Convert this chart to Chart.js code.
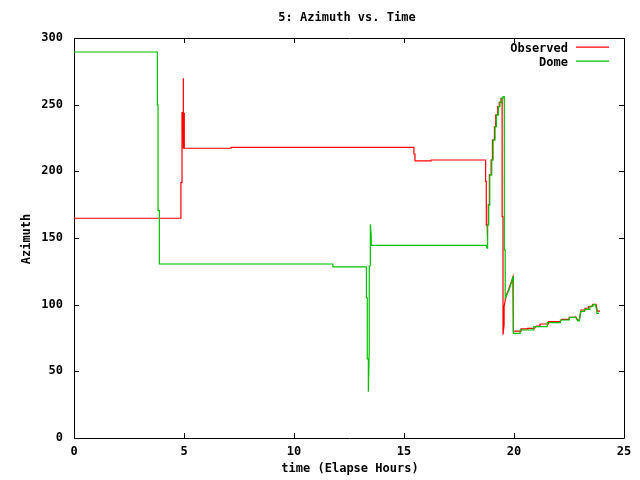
<!DOCTYPE html>
<html>
<head>
<meta charset="utf-8">
<script src="https://cdn.jsdelivr.net/npm/chart.js@4/dist/chart.umd.min.js"></script>
<style>
  html, body { margin: 0; padding: 0; background: #fff; }
  #wrap { width: 640px; height: 480px; }
</style>
</head>
<body>
<div id="wrap"><canvas id="azChart" width="640" height="480"></canvas></div>
<script>
// Observed azimuth (red)
const obsHours = [
    0, 4.86, 4.86, 4.91, 4.91, 4.96, 4.96, 4.98, 5.0, 5.0, 5.02, 5.02,
    7.14, 7.14, 15.45, 15.45, 15.5, 15.5, 16.23, 16.23,
    18.71, 18.71, 18.74, 18.74, 18.78, 18.78, 18.8, 18.8, 18.83, 18.83,
    18.88, 18.88, 18.96, 18.96, 19.02, 19.02, 19.11, 19.11, 19.17, 19.17,
    19.26, 19.26, 19.33, 19.33, 19.41, 19.41, 19.46, 19.46, 19.5, 19.5,
    19.55, 19.55, 19.6, 19.68, 19.75, 19.83, 19.9, 19.95, 19.97,
    20.32, 20.32, 20.62, 20.62, 20.92, 21.03, 21.18, 21.18, 21.56, 21.56,
    22.09, 22.17, 22.51, 22.51, 22.73, 22.8, 22.9, 22.97, 23.05, 23.23,
    23.23, 23.38, 23.38, 23.53, 23.58, 23.73, 23.79, 23.91
];
const obsAzimuth = [
    164.8, 164.8, 191.5, 191.5, 244, 244, 269.8, 217.3, 217.3, 244, 244, 217.3,
    217.3, 218, 218, 213, 213, 207.8, 207.8, 208.5,
    208.5, 192.5, 192.5, 159.8, 159.8, 149.8, 149.8, 159.8, 159.8, 174.8,
    174.8, 197.3, 197.3, 208.5, 208.5, 223.5, 223.5, 233.5, 233.5, 242.3,
    242.3, 248.5, 248.5, 251.8, 251.8, 254.8, 254.8, 166, 166, 77.5,
    85, 98.5, 103, 108.5, 111, 115, 118, 120.8, 80.2,
    80.2, 81.8, 81.8, 82.2, 82.2, 84, 84, 85.5, 85.5, 87.3,
    87.3, 89, 89, 90.5, 90.5, 91, 88.5, 88.5, 96, 96,
    97.3, 97.3, 98.5, 98.5, 100.2, 100.2, 95.2, 95.2
];

// Dome azimuth (green)
const domeHours = [
    0, 3.79, 3.79, 3.82, 3.82, 3.88, 3.88, 11.77, 11.77, 13.29,
    13.29, 13.33, 13.33, 13.38, 13.38, 13.42, 13.42, 13.47, 13.47, 13.51,
    13.51, 18.74, 18.78, 18.8, 18.85, 18.85, 18.9, 18.9, 18.99, 18.99,
    19.05, 19.05, 19.14, 19.14, 19.2, 19.2, 19.29, 19.29, 19.36, 19.36,
    19.44, 19.44, 19.5, 19.5, 19.56, 19.56, 19.6, 19.6, 19.68, 19.75,
    19.83, 19.9, 19.95, 19.97, 19.97, 20.28, 20.28, 20.9, 20.9, 21.51,
    21.51, 22.11, 22.11, 22.52, 22.52, 22.8, 22.9, 22.97, 23.03, 23.2,
    23.2, 23.45, 23.45, 23.6, 23.6, 23.7, 23.77, 23.77, 23.86
];
const domeAzimuth = [
    289.5, 289.5, 249.8, 249.8, 170.5, 170.5, 130.5, 130.5, 128.3, 128.3,
    105.2, 105.2, 59.3, 59.3, 34.7, 66, 129, 129, 160.3, 152,
    144.5, 144.5, 142.3, 159.8, 159.8, 174.8, 174.8, 197.3, 197.3, 208.5,
    208.5, 223.5, 223.5, 233.5, 233.5, 242.3, 242.3, 248.5, 248.5, 251.8,
    251.8, 254.8, 254.8, 256, 256, 141, 141, 105, 107.5, 110,
    113.8, 117.5, 120.8, 120.8, 78.5, 78.5, 81, 81, 83.5, 83.5,
    86.5, 86.5, 88.5, 88.5, 90.5, 90.5, 87.8, 87.8, 95, 95,
    96.5, 96.5, 98.8, 98.8, 100, 100, 95.2, 93.5, 93.5
];

const xTicks = [0, 5, 10, 15, 20, 25];
const yTicks = [0, 50, 100, 150, 200, 250, 300];

const FONT = "'DejaVu Sans Mono', 'Liberation Mono', monospace";
const RED = '#ff0000';
const GREEN = '#00c000';

function toPoints(xs, ys) {
    return xs.map((x, i) => ({ x: x, y: ys[i] }));
}

// gnuplot-like frame: box, inward ticks, titles and key
const gnuplotFrame = {
    id: 'gnuplotFrame',
    beforeDatasetsDraw(chart) {
        const { ctx, chartArea: a, scales } = chart;
        ctx.save();
        ctx.strokeStyle = '#000';
        ctx.lineWidth = 1;
        ctx.beginPath();
        ctx.rect(Math.round(a.left) + 0.5, Math.round(a.top) + 0.5,
            Math.round(a.right - a.left), Math.round(a.bottom - a.top));
        const len = 5;
        xTicks.forEach(v => {
            const px = Math.round(scales.x.getPixelForValue(v)) + 0.5;
            ctx.moveTo(px, a.bottom);
            ctx.lineTo(px, a.bottom - len);
            ctx.moveTo(px, a.top);
            ctx.lineTo(px, a.top + len);
        });
        yTicks.forEach(v => {
            const py = Math.round(scales.y.getPixelForValue(v)) + 0.5;
            ctx.moveTo(a.left, py);
            ctx.lineTo(a.left + len, py);
            ctx.moveTo(a.right, py);
            ctx.lineTo(a.right - len, py);
        });
        ctx.stroke();
        ctx.restore();
    },
    afterDraw(chart) {
        const { ctx, chartArea: a } = chart;
        ctx.save();
        ctx.fillStyle = '#000';
        ctx.font = 'bold 12px ' + FONT;
        ctx.textBaseline = 'middle';

        // title and axis titles
        ctx.textAlign = 'center';
        ctx.fillText('5: Azimuth vs. Time', (a.left + a.right) / 2 - 2, 18);
        ctx.fillText('time (Elapse Hours)', (a.left + a.right) / 2 + 1, 469);
        ctx.save();
        ctx.translate(27, 239);
        ctx.rotate(-Math.PI / 2);
        ctx.fillText('Azimuth', 0, 0);
        ctx.restore();

        // key
        const items = [
            { label: 'Observed', color: RED, y: 48 },
            { label: 'Dome', color: GREEN, y: 62 }
        ];
        ctx.textAlign = 'right';
        items.forEach(it => {
            ctx.fillStyle = '#000';
            ctx.fillText(it.label, 568, it.y + 1);
            ctx.strokeStyle = it.color;
            ctx.lineWidth = 1.2;
            ctx.beginPath();
            ctx.moveTo(576, it.y - 0.8);
            ctx.lineTo(609, it.y - 0.8);
            ctx.stroke();
        });
        ctx.restore();
    }
};

document.addEventListener('DOMContentLoaded', function() {
    const ctx = document.getElementById('azChart').getContext('2d');

    new Chart(ctx, {
        type: 'scatter',
        data: {
            datasets: [{
                label: 'Observed',
                data: toPoints(obsHours, obsAzimuth),
                borderColor: RED,
                backgroundColor: RED,
                showLine: true,
                borderWidth: 1.2,
                pointRadius: 0,
                tension: 0,
                order: 2
            }, {
                label: 'Dome',
                data: toPoints(domeHours, domeAzimuth),
                borderColor: GREEN,
                backgroundColor: GREEN,
                showLine: true,
                borderWidth: 1.2,
                pointRadius: 0,
                tension: 0,
                order: 1
            }]
        },
        options: {
            responsive: false,
            animation: false,
            layout: { padding: { top: 38, right: 16, left: 0, bottom: 0 } },
            plugins: {
                legend: { display: false },
                title: { display: false },
                tooltip: { enabled: false }
            },
            scales: {
                x: {
                    type: 'linear',
                    min: 0,
                    max: 25,
                    afterFit: scale => { scale.height = 42; },
                    afterBuildTicks: scale => {
                        scale.ticks = xTicks.map(v => ({ value: v }));
                    },
                    grid: { display: false, drawTicks: false },
                    border: { display: false },
                    ticks: {
                        padding: 7,
                        color: '#000',
                        maxRotation: 0,
                        font: { family: FONT, size: 12, weight: 'bold' }
                    }
                },
                y: {
                    type: 'linear',
                    min: 0,
                    max: 300,
                    afterFit: scale => { scale.width = 74; },
                    afterBuildTicks: scale => {
                        scale.ticks = yTicks.map(v => ({ value: v }));
                    },
                    grid: { display: false, drawTicks: false },
                    border: { display: false },
                    ticks: {
                        padding: 11,
                        color: '#000',
                        font: { family: FONT, size: 12, weight: 'bold' }
                    }
                }
            }
        },
        plugins: [gnuplotFrame]
    });
});
</script>
</body>
</html>
